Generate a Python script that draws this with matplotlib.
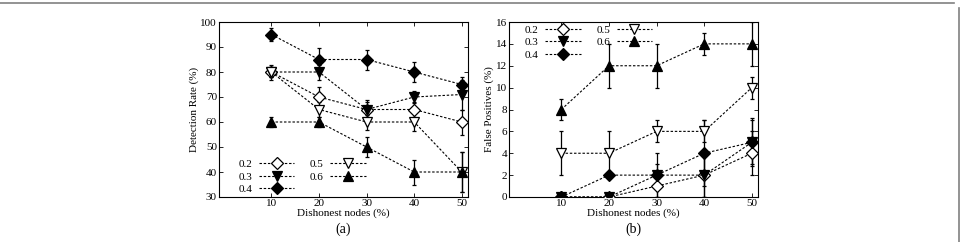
import matplotlib.pyplot as plt
from matplotlib.lines import Line2D

plt.rcParams['font.family'] = ['Liberation Serif', 'DejaVu Serif']
plt.rcParams['font.size'] = 8

# dishonest nodes (%)
nodes = [10, 20, 30, 40, 50]
thresholds = ['0.2', '0.3', '0.4', '0.5', '0.6']

# (a) detection rate (%)
det_rate = {
    '0.2': [80, 70, 65, 65, 60],
    '0.3': [80, 80, 65, 70, 71],
    '0.4': [95, 85, 85, 80, 75],
    '0.5': [80, 65, 60, 60, 40],
    '0.6': [60, 60, 50, 40, 40],
}
det_err = {
    '0.2': [2, 4, 3, 3, 5],
    '0.3': [3, 3, 4, 2.5, 6],
    '0.4': [2.5, 4.5, 4, 4, 3],
    '0.5': [2, 3, 3, 3.5, 8],
    '0.6': [2, 2, 4, 5, 8],
}

# (b) false positives (%)
false_pos = {
    '0.2': [0, 0, 1, 2, 4],
    '0.3': [0, 0, 2, 2, 5],
    '0.4': [0, 2, 2, 4, 5],
    '0.5': [4, 4, 6, 6, 10],
    '0.6': [8, 12, 12, 14, 14],
}
fp_err = {
    '0.2': [0, 0, 1, 2, 2],
    '0.3': [0, 0, 1, 2, 2],
    '0.4': [0, 0, 2, 3, 2.2],
    '0.5': [2, 2, 1, 1, 1],
    '0.6': [1, 2, 2, 1, 2],
}

# marker, filled?
styles = {
    '0.2': ('D', False),
    '0.3': ('v', True),
    '0.4': ('D', True),
    '0.5': ('v', False),
    '0.6': ('^', True),
}

fig = plt.figure(figsize=(9.62, 2.42), dpi=100)
ax_a = fig.add_axes([219 / 962, 1 - 197 / 242, 249 / 962, 175 / 242])
ax_b = fig.add_axes([509 / 962, 1 - 197 / 242, 249 / 962, 175 / 242])

dash = (0, (2.2, 1.6))


def draw(ax, data, err, ylim, yticks, ylabel, tag, legend_loc, legend_anchor):
    handles = []
    for t in thresholds:
        m, filled = styles[t]
        ms = 6 if m == 'D' else 7
        ax.errorbar(nodes, data[t], yerr=err[t], fmt='none', ecolor='black',
                    elinewidth=0.9, capsize=1.5, capthick=0.9, zorder=2)
        ax.plot(nodes, data[t], color='black', linestyle=dash, linewidth=0.8,
                marker=m, markersize=ms, markeredgewidth=0.9,
                markerfacecolor='black' if filled else 'white',
                markeredgecolor='black', zorder=3)
        handles.append(Line2D([], [], color='black', linestyle=dash, linewidth=0.8,
                              marker=m, markersize=ms, markeredgewidth=0.9,
                              markerfacecolor='black' if filled else 'white',
                              markeredgecolor='black'))
    ax.set_xlim(-1, 51.3)
    ax.set_ylim(*ylim)
    ax.set_xticks(nodes)
    ax.set_yticks(yticks)
    ax.tick_params(direction='in', top=True, right=True, length=3, width=0.6,
                   pad=1.5, labelsize=8)
    for s in ax.spines.values():
        s.set_linewidth(0.8)
    ax.set_xlabel('Dishonest nodes (%)', labelpad=0, fontsize=8)
    ax.set_ylabel(ylabel, labelpad=1, fontsize=8)
    ax.text(0.5, -0.183, tag, transform=ax.transAxes, ha='center', va='center',
            fontsize=10)
    ax.legend(handles, thresholds, ncol=2, frameon=False, markerfirst=False,
              loc=legend_loc, bbox_to_anchor=legend_anchor, handlelength=3.2,
              handletextpad=0.6, columnspacing=1.4, labelspacing=0.25,
              borderpad=0.0, fontsize=8)


draw(ax_a, det_rate, det_err, (30, 100), range(30, 101, 10),
     'Detection Rate (%)', '(a)', 'lower left', (0.055, -0.015))
draw(ax_b, false_pos, fp_err, (0, 16), range(0, 17, 2),
     'False Positives (%)', '(b)', 'upper left', (0.04, 1.015))

# page frame lines from the original figure
fig.add_artist(Line2D([0, 0.992], [0.988, 0.988], transform=fig.transFigure,
                      color='#808080', linewidth=1.2))
fig.add_artist(Line2D([0.997, 0.997], [0.0, 0.965], transform=fig.transFigure,
                      color='#808080', linewidth=1.2))

fig.savefig('out.png', dpi=100)
